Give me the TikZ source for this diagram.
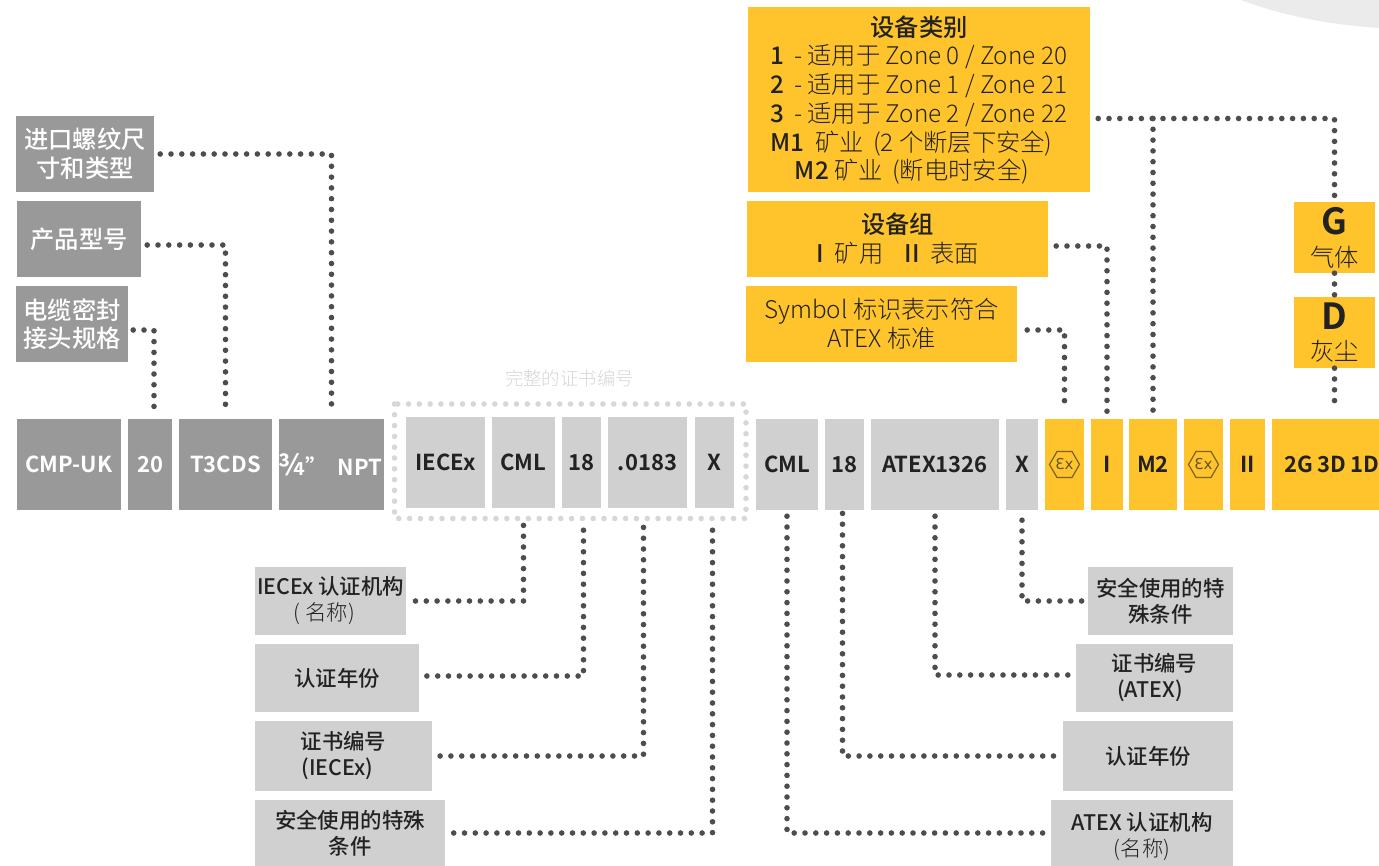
\documentclass[tikz,border=0pt]{standalone}
\usepackage{fontspec}
\setmainfont{Noto Sans CJK SC}[UprightFont=* Light,BoldFont=* Medium]
\newfontfamily\heavyfont{Noto Sans CJK SC Bold}
\newfontfamily\exfont{DejaVu Sans}
\usetikzlibrary{shapes.geometric}
\definecolor{darkgrey}{HTML}{999999}
\definecolor{lightgrey}{HTML}{D0D0D0}
\definecolor{amber}{HTML}{FFC42B}
\definecolor{inkdark}{HTML}{222222}
\definecolor{dotgrey}{HTML}{4D4D4D}

\begin{document}
\begin{tikzpicture}[x=1pt,y=-1pt,
    box/.style={inner sep=0pt,align=center,text=inkdark,font=\fontsize{24.3}{28.7}\selectfont},
    greybox/.style={box,fill=darkgrey,text=white},
    paperbox/.style={box,fill=lightgrey,font=\fontsize{21.4}{26}\selectfont},
    ambox/.style={box,fill=amber},
    rowtext/.style={font=\fontsize{22}{26}\heavyfont,minimum height=91},
    dots/.style={line width=5.6pt,line cap=round,dash pattern=on 0pt off 10.8pt,color=dotgrey},
    paledots/.style={dots,color=lightgrey!85!white},
    hexmark/.style={regular polygon,regular polygon sides=6,draw=inkdark!60!amber,line width=1.2pt,
      minimum size=30,inner sep=0pt,text=inkdark!70!amber,font=\fontsize{15}{15}\exfont}]
    \useasboundingbox (0,0) rectangle (1379,866);
    \fill[black!8] (1241,0) .. controls (1280,15) and (1330,25) .. (1379,28) -- (1379,0) -- cycle;

    % labels upper left
    \node[greybox,minimum width=138,minimum height=76] (thread) at (85,154) {\textbf{进口螺纹尺}\\\textbf{寸和类型}};
    \node[greybox,minimum width=124,minimum height=76] (product) at (79,239) {\textbf{产品型号}};
    \node[greybox,minimum width=112,minimum height=76] (cable) at (72,324) {\textbf{电缆密封}\\\textbf{接头规格}};

    % the marking row
    \foreach \name/\cx/\bw/\txt in {cmp/69/104/CMP-UK,size/150/44/20,type/225.5/93/T3CDS,npt/331.5/105/{{\fontsize{29}{29}\selectfont ¾}” \ NPT\hspace*{2pt}}}
      \node[greybox,rowtext,minimum width=\bw] (\name) at (\cx,464.5) {\txt};
    \foreach \name/\cx/\bw/\txt in {iecexa/445.5/79/IECEx,iecml/523.5/63/CML,ieyear/581.5/39/18,ienum/647.5/79/.0183,iex/714.5/39/X}
      \node[paperbox,rowtext,minimum width=\bw] (\name) at (\cx,462.5) {\txt};
    \foreach \name/\cx/\bw/\txt in {atcml/787/62/CML,atyear/844.5/39/18,atnum/935/128/ATEX1326,atx/1022/32/X}
      \node[paperbox,rowtext,minimum width=\bw] (\name) at (\cx,464.5) {\txt};
    \foreach \name/\cx/\bw/\txt in {exa/1064.5/39/{},grpa/1107/32/I,catm/1153/48/M2,exb/1203.5/39/{},grpb/1247.5/35/II,zone/1325.5/107/{\hspace*{13pt}2G\hspace{4pt}3D\hspace{4pt}1D}}
      \node[ambox,rowtext,minimum width=\bw] (\name) at (\cx,464.5) {\txt};
    \foreach \name in {exa,exb}
      \node[hexmark] (hex\name) at (\name.center) {Ɛx};

    % full certificate frame
    \node[text=lightgrey!90!white,inner sep=0pt,font=\fontsize{18.4}{20}\selectfont] (fullcert) at (569.5,378) {完整的证书编号};
    \coordinate (frameA) at (394.5,404);
    \coordinate (frameB) at (746,518.5);
    \draw[paledots] (frameA) rectangle (frameB);

    % labels upper right
    \node[ambox,minimum width=342,minimum height=185] (cat) at (919,100) {\textbf{设备类别}\\
      \textbf{1}\, - 适用于 Zone 0 / Zone 20\\
      \textbf{2}\, - 适用于 Zone 1 / Zone 21\\
      \textbf{3}\, - 适用于 Zone 2 / Zone 22\\
      \makebox[0pt]{\hspace*{-15pt}\textbf{M1}\ \ 矿业 \,(2 个断层下安全)}\\
      \textbf{M2} 矿业 \,(断电时安全)\hspace*{14pt}};
    \node[ambox,minimum width=301,minimum height=76] (group) at (897.5,239) {\textbf{设备组}\\\textbf{I}\hspace{6pt} 矿用 \hspace{16pt}\textbf{II}\hspace{5pt} 表面};
    \node[ambox,minimum width=271,minimum height=76] (symbol) at (881.5,324) {Symbol 标识表示符合\\ATEX 标准};
    \node[ambox,minimum width=81,minimum height=71] (gas) at (1334.5,237.5) {{\fontsize{36}{36}\heavyfont G}\\[3pt]气体};
    \node[ambox,minimum width=81,minimum height=71] (dust) at (1334.5,332.5) {{\fontsize{36}{36}\heavyfont D}\\[3pt]灰尘};

    % labels lower left
    \node[paperbox,minimum width=151,minimum height=68] (iebody) at (330.5,601) {\textbf{IECEx 认证机构}\\( 名称)\hspace*{12pt}};
    \node[paperbox,minimum width=164,minimum height=68] (ieyearl) at (337,678) {\textbf{认证年份}};
    \node[paperbox,minimum width=177,minimum height=70] (ienuml) at (343.5,756) {\textbf{证书编号}\\\textbf{(IECEx)}\hspace*{12pt}};
    \node[paperbox,minimum width=190,minimum height=66] (iecond) at (350,833) {\textbf{安全使用的特殊}\\\textbf{条件}};

    % labels lower right
    \node[paperbox,minimum width=145,minimum height=68] (atcond) at (1160.5,601) {\textbf{安全使用的特}\\\textbf{殊条件}};
    \node[paperbox,minimum width=157,minimum height=68] (atnuml) at (1154.5,678) {\textbf{证书编号}\\\textbf{(ATEX)}\hspace*{9pt}};
    \node[paperbox,minimum width=170,minimum height=70] (atyearl) at (1148,756) {\textbf{认证年份}};
    \node[paperbox,minimum width=182,minimum height=66] (atbody) at (1142,833) {\rule{0pt}{25pt}\textbf{ATEX 认证机构}\\(名称)};

    % connectors to the row from above
    \draw[dots,shorten <=6pt,shorten >=9pt] (thread.east) -| (npt.north);
    \draw[dots,shorten <=6pt,shorten >=9pt] ([yshift=-6pt]product.east) -| (type.north);
    \draw[dots,shorten <=5pt,shorten >=9pt] ([yshift=-6pt]cable.east) -| ([xshift=4pt]size.north);
    \draw[dots,shorten <=10pt,shorten >=9pt] ([yshift=-6pt]symbol.east) -| (exa.north);
    \draw[dots,shorten <=8pt,shorten >=5pt] ([yshift=-7pt]group.east) -| (grpa.north);
    \coordinate (branch) at ([yshift=-18.5pt]cat.east -| catm.north);
    \draw[dots,shorten <=8pt] ([yshift=-18.5pt]cat.east) -- (branch) -| (gas.north);
    \draw[dots,shorten >=7pt] (branch) -- (catm.north);
    \draw[dots] (gas.south) -- (dust.north);
    \draw[dots,shorten >=9pt] (dust.south) -- (dust.south |- zone.north);

    % connectors from the row downwards
    \draw[dots,shorten <=17.2pt,shorten >=5pt] (iecml.south) |- (iebody.east);
    \draw[dots,shorten <=22pt,shorten >=6pt] ([xshift=2pt]ieyear.south) |- ([yshift=2pt]ieyearl.east);
    \draw[dots,shorten <=19.2pt,shorten >=5pt] ([xshift=-4pt]ienum.south) |- (ienuml.east);
    \draw[dots,shorten <=22pt,shorten >=8pt] ([xshift=-2pt]iex.south) |- (iecond.east);
    \draw[dots,shorten <=6pt,shorten >=7pt] (atcml.south) |- (atbody.west);
    \draw[dots,shorten <=3.2pt,shorten >=6pt] ([xshift=-2pt]atyear.south) |- (atyearl.west);
    \draw[dots,shorten <=6pt,shorten >=7pt] (atnum.south) |- ([yshift=3pt]atnuml.west);
    \draw[dots,shorten <=10pt,shorten >=5pt] (atx.south) |- (atcond.west);
\end{tikzpicture}
\end{document}
